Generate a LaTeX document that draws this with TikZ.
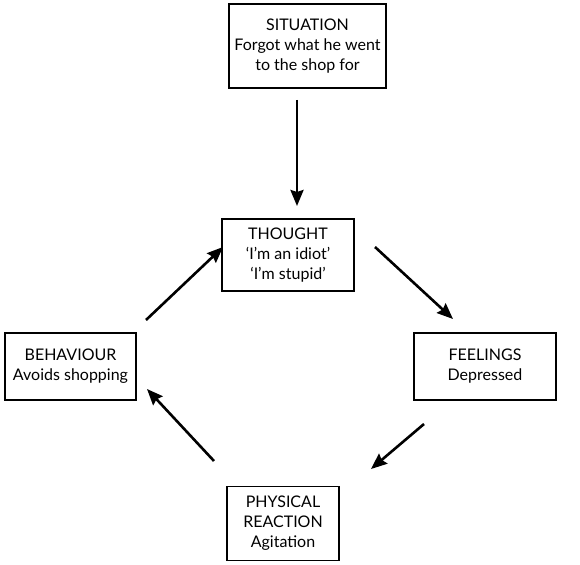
\documentclass[tikz,border=0pt]{standalone}
\usepackage{fontspec}
\setmainfont{Lato}
\usetikzlibrary{arrows.meta,calc}
\begin{document}
\begin{tikzpicture}[x=1pt,y=1pt,
  box/.style={draw=black,line width=1.2pt,align=center,inner sep=0pt,
    font=\fontsize{16}{20}\selectfont},
  arr/.style={line width=2.6pt,-{Stealth[length=16pt,width=13pt,inset=2pt]}}]
\useasboundingbox[fill=white] (0,0) rectangle (580,-564);
\node[box,minimum width=157pt,minimum height=84pt] (sit) at (307.5,-46)
  {SITUATION\\Forgot what he went\\to the shop for};
\node[box,minimum width=132pt,minimum height=72pt] (tho) at (288,-255)
  {THOUGHT\\‘I’m an idiot’\\‘I’m stupid’};
\node[box,minimum width=142pt,minimum height=67pt] (fee) at (485,-366.5)
  {FEELINGS\\Depressed};
\node[box,minimum width=131pt,minimum height=67pt] (beh) at (70.5,-366.5)
  {BEHAVIOUR\\Avoids shopping};
\node[box,minimum width=112pt,minimum height=74pt] (phy) at (283,-523.5)
  {PHYSICAL\\REACTION\\Agitation};
\coordinate (a1s) at (297,-100); \coordinate (a1e) at (297,-206);
\coordinate (a2s) at (375,-247); \coordinate (a2e) at (453,-319);
\coordinate (a3s) at (424,-424); \coordinate (a3e) at (371,-469);
\coordinate (a4s) at (214,-461); \coordinate (a4e) at (147,-389);
\coordinate (a5s) at (146,-320); \coordinate (a5e) at (223,-247);
\draw[arr] (a1s) -- (a1e);
\draw[arr] (a2s) -- (a2e);
\draw[arr] (a3s) -- (a3e);
\draw[arr] (a4s) -- (a4e);
\draw[arr] (a5s) -- (a5e);
\end{tikzpicture}
\end{document}
